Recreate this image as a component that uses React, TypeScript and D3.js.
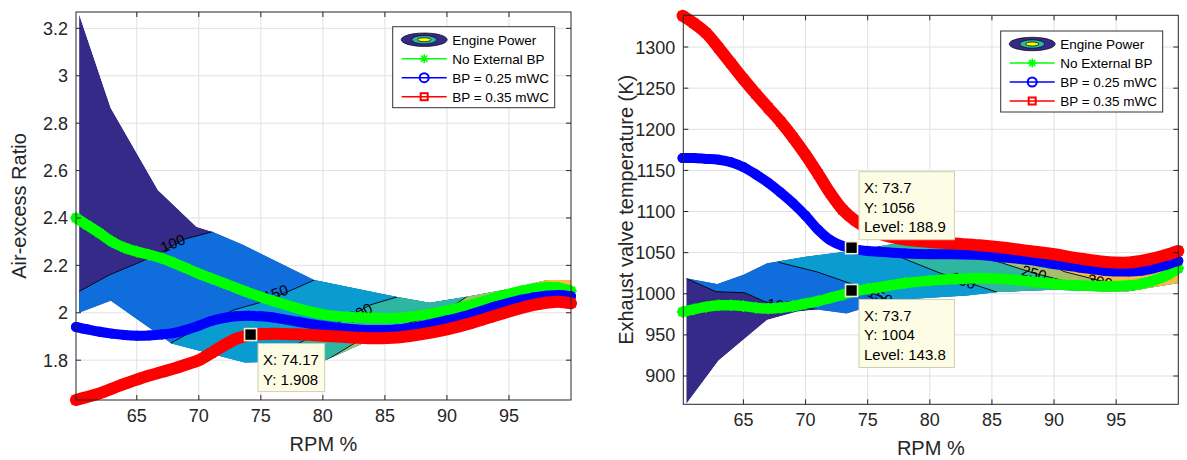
import * as d3 from 'd3'

type Pt = [number, number]

const FONT = '"Liberation Sans", Arial, Helvetica, sans-serif'
const INK = '#262626'

// shared RPM % samples for every series
const rpm = [60.1, 61, 62, 63, 64, 65, 66, 67, 68, 69, 70, 71, 72, 73, 74, 75, 76, 78, 80, 82, 84, 86, 88, 90, 92, 94, 96, 97, 98, 99, 100]
const xTicks = [65, 70, 75, 80, 85, 90, 95]

// air-excess ratio
const airNoBP = [2.40, 2.37, 2.336, 2.30, 2.275, 2.258, 2.245, 2.23, 2.21, 2.188, 2.165, 2.145, 2.125, 2.105, 2.085, 2.067, 2.05, 2.018, 1.993, 1.982, 1.978, 1.978, 1.99, 2.008, 2.035, 2.065, 2.092, 2.102, 2.108, 2.106, 2.092]
const airBP25 = [1.94, 1.93, 1.92, 1.912, 1.906, 1.903, 1.904, 1.908, 1.915, 1.928, 1.945, 1.965, 1.978, 1.985, 1.987, 1.985, 1.98, 1.962, 1.945, 1.933, 1.927, 1.93, 1.945, 1.968, 1.995, 2.028, 2.055, 2.065, 2.072, 2.075, 2.07]
const airBP35 = [1.632, 1.645, 1.66, 1.68, 1.70, 1.718, 1.735, 1.75, 1.765, 1.782, 1.80, 1.83, 1.862, 1.89, 1.905, 1.91, 1.912, 1.909, 1.903, 1.897, 1.893, 1.896, 1.91, 1.93, 1.957, 1.99, 2.02, 2.033, 2.042, 2.047, 2.04]
const airTicks = [1.8, 2, 2.2, 2.4, 2.6, 2.8, 3, 3.2]

// exhaust valve temperature (K)
const tempNoBP = [978, 981, 984, 986, 986, 985, 983, 982, 983, 985, 988, 991, 995, 999, 1003, 1006, 1008, 1013, 1016, 1018, 1019, 1018, 1015, 1012, 1010, 1009, 1010, 1012, 1016, 1022, 1031]
const tempBP25 = [1165, 1165, 1164, 1163, 1160, 1154, 1145, 1135, 1123, 1110, 1095, 1078, 1065, 1058, 1054, 1052, 1051, 1049, 1048, 1048, 1047, 1044, 1041, 1036, 1032, 1028, 1027, 1028, 1031, 1035, 1040]
const tempBP35 = [1338, 1329, 1317, 1299, 1280, 1261, 1243, 1226, 1209, 1190, 1169, 1146, 1122, 1102, 1089, 1080, 1073, 1066, 1063, 1061, 1059, 1056, 1052, 1048, 1043, 1039, 1038, 1040, 1043, 1047, 1052]
const tempTicks = [900, 950, 1000, 1050, 1100, 1150, 1200, 1250, 1300]

// engine power contour (parula bands, <100, 100-150, ... 300-350)
const powerColors = ['#352a87', '#0f6edc', '#0a9bd0', '#2fb6a3', '#a4be6c', '#f6ba45']

const airBandTop: Pt[] = [[60.35, 3.26], [62.9, 2.864], [66.7, 2.518], [69.8, 2.363], [71.1, 2.342], [73.6, 2.286], [79.3, 2.138], [86, 2.067], [88.6, 2.042], [91.6, 2.068], [95, 2.1], [98.1, 2.138], [100, 2.138]]
const airBandBottom: Pt[] = [[60.35, 2.0], [62.9, 2.051], [67.8, 1.87], [73.7, 1.79], [80.2, 1.8], [83.5, 1.878], [88, 1.92], [92, 1.96], [96, 2.01], [100, 2.03]]
const airLevels: Pt[][] = [
  [[59.5, 1.5], [59.5, 2.07], [60.35, 2.09], [62.8, 2.16], [65.1, 2.21], [67, 2.255], [68.8, 2.31], [71.1, 2.342], [71.3, 2.6]],
  [[67.5, 1.7], [67.8, 1.874], [70, 1.936], [72.8, 2.012], [75.2, 2.047], [77, 2.085], [79.3, 2.138], [79.5, 2.3]],
  [[75.2, 1.7], [75.5, 1.79], [78, 1.87], [81, 1.95], [83.8, 2.033], [86, 2.067], [86.2, 2.2]],
  [[80.1, 1.7], [80.3, 1.8], [82.5, 1.87], [85, 1.93], [88.4, 1.977], [89.7, 2.0], [91.6, 2.068], [91.8, 2.2]],
  [[88, 1.7], [89, 1.9], [92, 1.99], [93.8, 2.07], [95.2, 2.12], [95.5, 2.3]],
]
const airLevelLabels = [
  { text: '100', x: 67.9, y: 2.293, angle: -23 },
  { text: '150', x: 76.2, y: 2.082, angle: -20 },
  { text: '200', x: 83, y: 2.0, angle: -27 },
  { text: '250', x: 88.9, y: 1.98, angle: -20 },
  { text: '300', x: 93.7, y: 2.05, angle: -15 },
]

const tempBandTop: Pt[] = [[60.4, 1019], [62.9, 1012], [65, 1023], [66.9, 1037], [70, 1045], [74.1, 1053], [77.6, 1062], [80, 1062], [85, 1057], [90, 1048], [95, 1040], [98, 1041], [100, 1045]]
const tempBandBottom: Pt[] = [[60.4, 866], [63, 919], [66.9, 968], [69.3, 978], [70.9, 981], [73.3, 976], [76.8, 992], [83, 998], [85.5, 1002], [90, 1005], [95.6, 1002], [100, 1013]]
const tempLevels: Pt[][] = [
  [[60, 1060], [60.4, 1018.6], [62.8, 1002.5], [65.1, 1001.3], [66.7, 990.5], [68.5, 985], [70.9, 981], [71, 940]],
  [[67.6, 1060], [67.9, 1038], [70.9, 1026.7], [73.6, 1012.6], [75.5, 1000], [77, 990], [77.2, 960]],
  [[75.5, 1080], [76, 1055], [78.2, 1041], [80.9, 1024.7], [83.8, 1010], [85.4, 1002], [85.6, 980]],
  [[82, 1080], [82.5, 1050], [85.7, 1038], [88.4, 1025], [91, 1015], [93, 1004], [93.2, 980]],
  [[88, 1080], [88.5, 1046], [90.8, 1027], [93.7, 1016], [97, 1002], [97.5, 980]],
]
const tempLevelLabels = [
  { text: '100', x: 67.9, y: 986, angle: 8 },
  { text: '150', x: 76, y: 997, angle: 25 },
  { text: '200', x: 82.7, y: 1016, angle: 18 },
  { text: '250', x: 88.4, y: 1025, angle: 15 },
  { text: '300', x: 93.7, y: 1015, angle: 12 },
]

const airTips = [{ x: 74.17, y: 1.908, level: null as number | null, above: false }]
const tempTips = [
  { x: 73.7, y: 1056, level: 188.9, above: true },
  { x: 73.7, y: 1004, level: 143.8, above: false },
]

const legendNames = ['Engine Power', 'No External BP', 'BP = 0.25 mWC', 'BP = 0.35 mWC']
const seriesColors = ['#00ff00', '#0000ff', '#ff0000']
const seriesMarkers = ['star', 'circle', 'square']

function Marker({ kind, cx, cy, color, s }: { kind: string; cx: number; cy: number; color: string; s: number }) {
  if (kind === 'circle') return <circle cx={cx} cy={cy} r={s} fill="none" stroke={color} strokeWidth={2} />
  if (kind === 'square') return <rect x={cx - s} y={cy - s} width={2 * s} height={2 * s} fill="none" stroke={color} strokeWidth={2} />
  const k = s * 0.7
  return (
    <path
      d={`M${cx - s},${cy}H${cx + s}M${cx},${cy - s}V${cy + s}M${cx - k},${cy - k}L${cx + k},${cy + k}M${cx - k},${cy + k}L${cx + k},${cy - k}`}
      stroke={color}
      strokeWidth={1.6}
      fill="none"
    />
  )
}

function Legend({ left, top }: { left: number; top: number }) {
  return (
    <g fontFamily={FONT} fontSize={13.5} fill="#000">
      <rect x={left} y={top} width={162} height={81} fill="#fff" stroke="#333" strokeWidth={1} />
      {legendNames.map((name, i) => {
        const cy = top + 13 + i * 19
        const cx = left + 31.5
        return (
          <g key={name}>
            {i === 0 ? (
              <g stroke="#000" strokeWidth={0.7}>
                <ellipse cx={cx} cy={cy} rx={23} ry={6.7} fill={powerColors[0]} />
                <ellipse cx={cx} cy={cy} rx={12.5} ry={4.2} fill="#2fb6a3" />
                <ellipse cx={cx} cy={cy} rx={6.7} ry={2} fill="#f9fb0e" />
              </g>
            ) : (
              <g>
                <line x1={left + 9} x2={left + 54} y1={cy} y2={cy} stroke={seriesColors[i - 1]} strokeWidth={1.5} />
                <Marker kind={seriesMarkers[i - 1]} cx={cx} cy={cy} color={seriesColors[i - 1]} s={seriesMarkers[i - 1] === 'square' ? 3.5 : 4.5} />
              </g>
            )}
            <text x={left + 59.5} y={cy} dy="0.36em">{name}</text>
          </g>
        )
      })}
    </g>
  )
}

function Panel(props: {
  id: string
  left: number
  top: number
  width: number
  height: number
  xDomain: [number, number]
  yDomain: [number, number]
  yTicks: number[]
  yLabel: string
  values: number[][]
  bandTop: Pt[]
  bandBottom: Pt[]
  levels: Pt[][]
  labels: { text: string; x: number; y: number; angle: number }[]
  tips: { x: number; y: number; level: number | null; above: boolean }[]
  legendLeft: number
  legendTop: number
}) {
  const { id, left, top, width, height } = props
  const bottom = top + height
  const right = left + width
  const x = d3.scaleLinear().domain(props.xDomain).range([left, right])
  const y = d3.scaleLinear().domain(props.yDomain).range([bottom, top])
  const path = d3.line<Pt>().x((d) => x(d[0])).y((d) => y(d[1]))
  const bandPath = path([...props.bandTop, ...[...props.bandBottom].reverse()]) + 'Z'
  const far = props.xDomain[1] + 20
  const levelAreas = props.levels.map((pts) => path([...pts, [far, pts[pts.length - 1][1]], [far, pts[0][1]]]) + 'Z')
  const curve = d3.line<number>().x((_, i) => x(rpm[i])).y((d) => y(d)).curve(d3.curveCatmullRom)
  const widths = [10.5, 10, 12]
  const sizes = [5.8, 4, 3.6]

  return (
    <g>
      <defs>
        <clipPath id={`${id}-band`}>
          <path d={bandPath} />
        </clipPath>
      </defs>

      <g stroke="#e1e1e1" strokeWidth={1}>
        {xTicks.map((t) => <line key={t} x1={x(t)} x2={x(t)} y1={top} y2={bottom} />)}
        {props.yTicks.map((t) => <line key={t} x1={left} x2={right} y1={y(t)} y2={y(t)} />)}
      </g>

      <g clipPath={`url(#${id}-band)`}>
        <path d={bandPath} fill={powerColors[0]} />
        {levelAreas.map((d, i) => <path key={i} d={d} fill={powerColors[i + 1]} />)}
        {props.levels.map((pts, i) => <path key={i} d={path(pts) ?? ''} fill="none" stroke="#000" strokeWidth={0.9} />)}
      </g>
      <g fontFamily={FONT} fontSize={15} fill="#000">
        {props.labels.map((l) => (
          <text key={l.text} textAnchor="middle" dy="0.35em" transform={`translate(${x(l.x)},${y(l.y)}) rotate(${l.angle})`}>
            {l.text}
          </text>
        ))}
      </g>

      {props.values.map((vals, s) => (
        <g key={s}>
          <path d={curve(vals) ?? ''} fill="none" stroke={seriesColors[s]} strokeWidth={widths[s]} strokeLinejoin="round" strokeLinecap="round" />
          {vals.map((v, i) => (
            <Marker key={i} kind={seriesMarkers[s]} cx={x(rpm[i])} cy={y(v)} color={seriesColors[s]} s={sizes[s]} />
          ))}
        </g>
      ))}

      <g stroke={INK} strokeWidth={1}>
        <rect x={left} y={top} width={width} height={height} fill="none" />
        {xTicks.map((t) => (
          <g key={t}>
            <line x1={x(t)} x2={x(t)} y1={bottom} y2={bottom - 5} />
            <line x1={x(t)} x2={x(t)} y1={top} y2={top + 5} />
          </g>
        ))}
        {props.yTicks.map((t) => (
          <g key={t}>
            <line x1={left} x2={left + 5} y1={y(t)} y2={y(t)} />
            <line x1={right} x2={right - 5} y1={y(t)} y2={y(t)} />
          </g>
        ))}
      </g>
      <g fontFamily={FONT} fontSize={18} fill={INK}>
        {xTicks.map((t) => (
          <text key={t} x={x(t)} y={bottom + 22} textAnchor="middle">{t}</text>
        ))}
        {props.yTicks.map((t) => (
          <text key={t} x={left - 8} y={y(t)} dy="0.36em" textAnchor="end">{t}</text>
        ))}
      </g>
      <g fontFamily={FONT} fontSize={20} fill={INK}>
        <text x={(left + right) / 2} y={bottom + 51} textAnchor="middle">RPM %</text>
        <text transform={`translate(${left - 50},${(top + bottom) / 2}) rotate(-90)`} textAnchor="middle">{props.yLabel}</text>
      </g>

      {props.tips.map((t, i) => {
        const mx = x(t.x)
        const my = y(t.y)
        const lines = [`X: ${t.x}`, `Y: ${t.y}`]
        if (t.level !== null) lines.push(`Level: ${t.level}`)
        const w = d3.max(lines, (l) => l.length)! * 7.2 + 9
        const h = lines.length * 20 + 8
        const bx = mx + 7.5
        const by = t.above ? my - 8 - h : my + 9
        return (
          <g key={i}>
            <rect x={bx} y={by} width={w} height={h} fill="#fdfde6" stroke="#cfcfb4" strokeWidth={1} />
            {lines.map((l, j) => (
              <text key={j} x={bx + 5} y={by + 21.5 + j * 19.5} fontFamily={FONT} fontSize={15} fill="#000">{l}</text>
            ))}
            <rect x={mx - 6} y={my - 6} width={12} height={12} fill="#000" stroke="#f4f0cc" strokeWidth={1.6} />
          </g>
        )
      })}

      <Legend left={props.legendLeft} top={props.legendTop} />
    </g>
  )
}

export default function App() {
  return (
    <div style={{ position: 'absolute', left: 0, top: 0 }}>
      <svg width={1187} height={460} style={{ display: 'block', background: '#fff' }}>
        <Panel
          id="air"
          left={76}
          top={12}
          width={495}
          height={388}
          xDomain={[60.1, 100]}
          yDomain={[1.632, 3.269]}
          yTicks={airTicks}
          yLabel="Air-excess Ratio"
          values={[airNoBP, airBP25, airBP35]}
          bandTop={airBandTop}
          bandBottom={airBandBottom}
          levels={airLevels}
          labels={airLevelLabels}
          tips={airTips}
          legendLeft={392.7}
          legendTop={26.7}
        />
        <Panel
          id="temp"
          left={683.3}
          top={15.3}
          width={495}
          height={389}
          xDomain={[60.16, 100]}
          yDomain={[865.6, 1338.6]}
          yTicks={tempTicks}
          yLabel="Exhaust valve temperature (K)"
          values={[tempNoBP, tempBP25, tempBP35]}
          bandTop={tempBandTop}
          bandBottom={tempBandBottom}
          levels={tempLevels}
          labels={tempLevelLabels}
          tips={tempTips}
          legendLeft={1000.7}
          legendTop={31}
        />
      </svg>
    </div>
  )
}
